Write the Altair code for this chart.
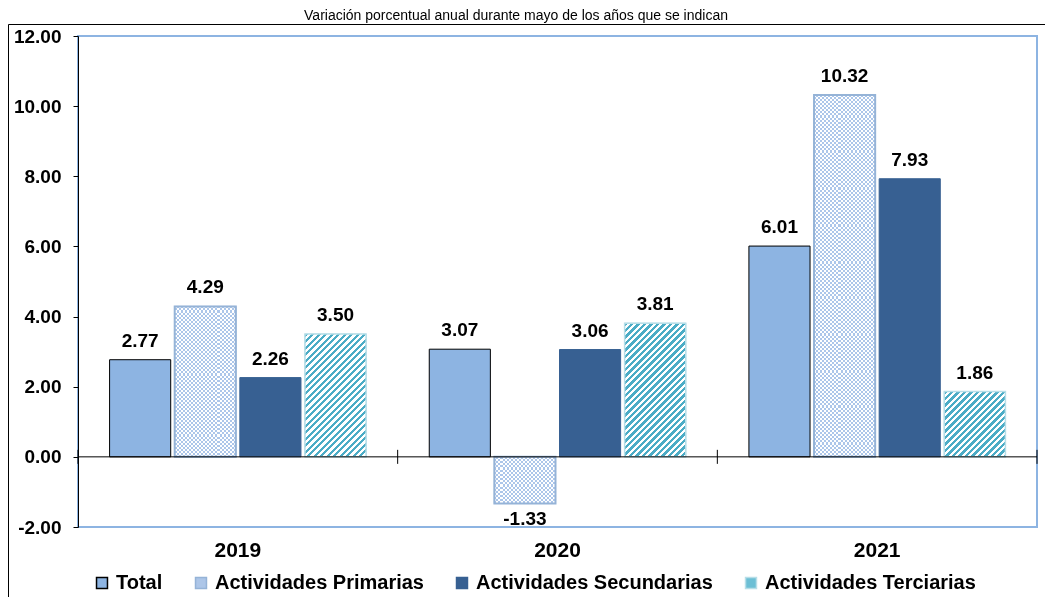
import altair as alt
import pandas as pd

# ---------------- data ----------------
years = ["2019", "2020", "2021"]
series = ["Total", "Actividades Primarias", "Actividades Secundarias", "Actividades Terciarias"]
total = [2.77, 3.07, 6.01]
primarias = [4.29, -1.33, 10.32]
secundarias = [2.26, 3.06, 7.93]
terciarias = [3.50, 3.81, 1.86]
y_ticks = [-2, 0, 2, 4, 6, 8, 10, 12]
y_domain = [-2, 12]
title_text = "Variación porcentual anual durante mayo de los años que se indican"

rows = []
for i, yr in enumerate(years):
    for s, vals in zip(series, [total, primarias, secundarias, terciarias]):
        rows.append({"year": yr, "series": s, "value": vals[i], "label": f"{vals[i]:.2f}"})
df = pd.DataFrame(rows)

# ---------------- layout / style ----------------
W, H = 959, 491
PAD = {"left": 70, "top": 28, "right": 8, "bottom": 70}
PI, PO = 0.0615, 0.485
FONT = "Liberation Sans, Arial, sans-serif"
ppu = H / (y_domain[1] - y_domain[0])
year_step = W / len(years)
off_step = year_step / (len(series) - PI + 2 * PO)
bar_w = off_step * (1 - PI)

fill_range = ["#8db4e2", "#adc6e8", "#376092", "#6cbfd5"]
stroke_range = ["#000000", "#95b3d7", "#376092", "#b7dee8"]
CHECK_BLUE = (172, 198, 234)
TEAL = "#4bacc6"

x_axis = alt.Axis(labelAngle=0, ticks=False, domain=False, labelPadding=12,
                  labelFont=FONT, labelFontSize=21, labelFontWeight="bold",
                  labelColor="black")
x_scale = alt.Scale(paddingInner=0, paddingOuter=0)


def x_enc(band=None):
    if band is None:
        return alt.X("year:N", sort=years, title=None, scale=x_scale, axis=x_axis)
    return alt.X("year:N", sort=years, title=None, scale=x_scale, axis=x_axis, bandPosition=band)


xo_enc = alt.XOffset("series:N", sort=series,
                     scale=alt.Scale(domain=series, paddingInner=PI, paddingOuter=PO))
y_axis = alt.Axis(values=y_ticks, labelExpr="replace(format(datum.value, '.2f'), '\u2212', '-')",
                  grid=False, domainColor="black", tickColor="black", tickSize=5,
                  labelPadding=12, labelFont=FONT, labelFontSize=19, labelFontWeight="bold",
                  labelColor="black", zindex=1)
y_scale = alt.Scale(domain=y_domain, nice=False, zero=False)


def y_enc(field="value:Q"):
    return alt.Y(field, title=None, scale=y_scale, axis=y_axis)


def stripe_stops(n, c1, c2, frac=0.5):
    stops = []
    period = 1.0 / n
    k = 0
    while k * period < 1.0:
        a = k * period
        b = min(a + frac * period, 1.0)
        c = min((k + 1) * period, 1.0)
        stops += [{"offset": a, "color": c1}, {"offset": b, "color": c1},
                  {"offset": b, "color": c2}, {"offset": c, "color": c2}]
        k += 1
    return stops


def hexc(rgb):
    return "#%02x%02x%02x" % rgb


D = hexc(tuple(255 - c for c in CHECK_BLUE))

base = alt.Chart(df)

# frame around whole chart and plot border
frame = alt.Chart(pd.DataFrame({"f": [0]})).mark_rect(
    fill="white", fillOpacity=0, stroke="black", strokeWidth=1
).encode(x=alt.value(-69.5), x2=alt.value(1300), y=alt.value(-11.5), y2=alt.value(900))
border = alt.Chart(pd.DataFrame({"f": [0]})).mark_rect(
    fill="white", fillOpacity=0, stroke="#8db4e2", strokeWidth=2
).encode(x=alt.value(0), x2=alt.value(W), y=alt.value(0), y2=alt.value(H))

legend = alt.Legend(orient="none", legendX=14, legendY=537, direction="horizontal", columns=4,
                    title=None, symbolType="square", symbolSize=120, symbolStrokeWidth=1.5,
                    labelFont=FONT, labelFontSize=20, labelFontWeight="bold", labelColor="black",
                    labelLimit=0, columnPadding=28, labelOffset=4, padding=0)

bars = base.mark_bar(strokeWidth=1).encode(
    x=x_enc(), xOffset=xo_enc, y=y_enc(),
    fill=alt.Fill("series:N", sort=series, scale=alt.Scale(domain=series, range=fill_range), legend=legend),
    stroke=alt.Stroke("series:N", sort=series, scale=alt.Scale(domain=series, range=stroke_range), legend=legend),
)

layers = [frame, border, bars]

# --- checker pattern for Primarias ---
n_v = max(1, round(bar_w / 4.1))
vert_grad = {"gradient": "linear", "x1": 0, "y1": 0, "x2": 1, "y2": 0,
             "stops": stripe_stops(n_v, "#000000", D)}
prim = base.transform_filter(alt.datum.series == series[1])
layers.append(prim.mark_bar(fill=vert_grad).encode(x=x_enc(), xOffset=xo_enc, y=y_enc()))
for i, yr in enumerate(years):
    h = abs(primarias[i]) * ppu
    n_h = max(1, round(h / 4.1))
    hor_grad = {"gradient": "linear", "x1": 0, "y1": 0, "x2": 0, "y2": 1,
                "stops": stripe_stops(n_h, "#000000", D)}
    layers.append(
        base.transform_filter((alt.datum.series == series[1]) & (alt.datum.year == yr))
        .mark_bar(fill=hor_grad, blend="difference")
        .encode(x=x_enc(), xOffset=xo_enc, y=y_enc())
    )
layers.append(prim.mark_bar(fill="white", blend="difference").encode(x=x_enc(), xOffset=xo_enc, y=y_enc()))
layers.append(prim.mark_bar(fill="white", fillOpacity=0, stroke=stroke_range[1], strokeWidth=2)
              .encode(x=x_enc(), xOffset=xo_enc, y=y_enc()))

# --- diagonal stripes for Terciarias ---
for i, yr in enumerate(years):
    w = bar_w
    h = abs(terciarias[i]) * ppu
    k = (w + h) / (w * w + h * h)
    n = (w + h) / 6.5
    grad = {"gradient": "linear", "x1": 0, "y1": 0, "x2": w * k, "y2": h * k,
            "stops": stripe_stops(n, TEAL, "#ffffff", 0.5)}
    layers.append(
        base.transform_filter((alt.datum.series == series[3]) & (alt.datum.year == yr))
        .mark_bar(fill=grad, stroke=stroke_range[3], strokeWidth=1.5)
        .encode(x=x_enc(), xOffset=xo_enc, y=y_enc())
    )

# zero line and category ticks on it
zero = alt.Chart(pd.DataFrame({"z": [0.0]})).mark_rule(color="black", strokeWidth=1).encode(y=y_enc("z:Q"))
tick_df = pd.DataFrame({"year": years, "lo": [-0.2] * 3, "hi": [0.2] * 3})
ticks0 = alt.Chart(tick_df).mark_rule(color="black", strokeWidth=1).encode(
    x=x_enc(0), y=y_enc("lo:Q"), y2="hi:Q")
ticks1 = alt.Chart(tick_df).transform_filter(alt.datum.year == years[-1]).mark_rule(
    color="black", strokeWidth=1).encode(x=x_enc(1), y=y_enc("lo:Q"), y2="hi:Q")
layers += [zero, ticks0, ticks1]

# data labels
pos_text = base.transform_filter(alt.datum.value >= 0).mark_text(
    baseline="alphabetic", dy=-13, font=FONT, fontSize=19, fontWeight="bold", color="black"
).encode(x=x_enc(), xOffset=xo_enc, y=y_enc(), text="label:N")
neg_text = base.transform_filter(alt.datum.value < 0).mark_text(
    baseline="alphabetic", dy=21, font=FONT, fontSize=19, fontWeight="bold", color="black"
).encode(x=x_enc(), xOffset=xo_enc, y=y_enc(), text="label:N")
layers += [pos_text, neg_text]

title = alt.Chart(pd.DataFrame({"t": [title_text]})).mark_text(
    font=FONT, fontSize=14, color="black", align="center", baseline="alphabetic"
).encode(text="t:N", x=alt.value(438), y=alt.value(-16))
layers.append(title)

chart = alt.layer(*layers).properties(
    width=W, height=H, padding=PAD, autosize=alt.AutoSizeParams(type="none")
).configure_view(strokeWidth=0).configure(background="white")

chart.save("out.html", embed_options={"renderer": "svg", "actions": False})
